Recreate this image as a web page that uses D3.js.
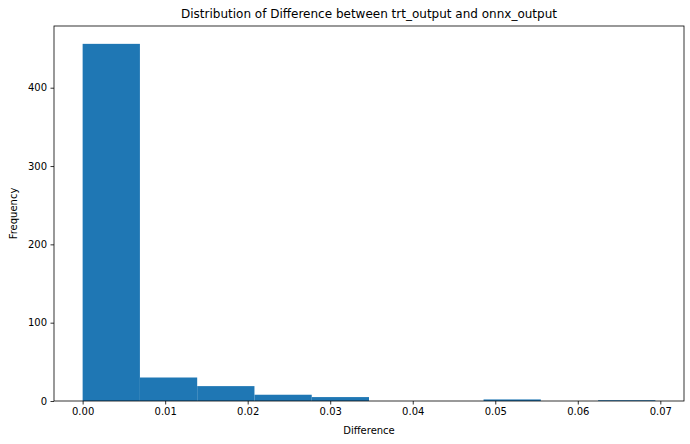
<!DOCTYPE html>
<html><head><meta charset="utf-8">
<script src="https://cdn.jsdelivr.net/npm/d3@7"></script>
<style>body{margin:0;background:#fff}text{font-family:"DejaVu Sans",sans-serif}</style>
</head><body><svg id="c" width="690" height="444"></svg>
<script>
const binEdges=[0,0.00694,0.01388,0.02082,0.02776,0.0347,0.04164,0.04858,0.05552,0.06246,0.0694];
const counts=[456,30,19,8,5,0,0,2,0,1];
const xTicks=[0,0.01,0.02,0.03,0.04,0.05,0.06,0.07];
const yTicks=[0,100,200,300,400];
const svg=d3.select("#c");
const L=54,R=684,T=26,B=401;
const span=binEdges[10]-binEdges[0];
const x=d3.scaleLinear().domain([binEdges[0]-span*0.05,binEdges[10]+span*0.05]).range([L,R]);
const y=d3.scaleLinear().domain([0,d3.max(counts)*1.05]).range([B,T]);
svg.selectAll("rect.bar").data(counts).enter().append("rect")
 .attr("x",(d,i)=>x(binEdges[i])).attr("width",(d,i)=>x(binEdges[i+1])-x(binEdges[i]))
 .attr("y",d=>y(d)).attr("height",d=>B-y(d)).attr("fill","#1f77b4");
svg.append("rect").attr("x",L).attr("y",T).attr("width",R-L).attr("height",B-T).attr("fill","none").attr("stroke","#000").attr("stroke-width",0.8);
const xa=svg.append("g").attr("transform",`translate(0,${B})`).call(d3.axisBottom(x).tickValues(xTicks).tickFormat(d3.format(".2f")).tickSize(3.5).tickPadding(3.5));
const ya=svg.append("g").attr("transform",`translate(${L},0)`).call(d3.axisLeft(y).tickValues(yTicks).tickSize(3.5).tickPadding(3.5));
[xa,ya].forEach(a=>{a.select(".domain").remove();a.selectAll("text").attr("font-size",10).attr("fill","#000").attr("font-family","DejaVu Sans");a.selectAll("line").attr("stroke","#000").attr("stroke-width",0.8);});
svg.append("text").attr("x",(L+R)/2).attr("y",18).attr("text-anchor","middle").attr("font-size",12).text("Distribution of Difference between trt_output and onnx_output");
svg.append("text").attr("x",(L+R)/2).attr("y",434).attr("text-anchor","middle").attr("font-size",10).text("Difference");
svg.append("text").attr("transform",`translate(17,${(T+B)/2}) rotate(-90)`).attr("text-anchor","middle").attr("font-size",10).text("Frequency");
</script></body></html>
